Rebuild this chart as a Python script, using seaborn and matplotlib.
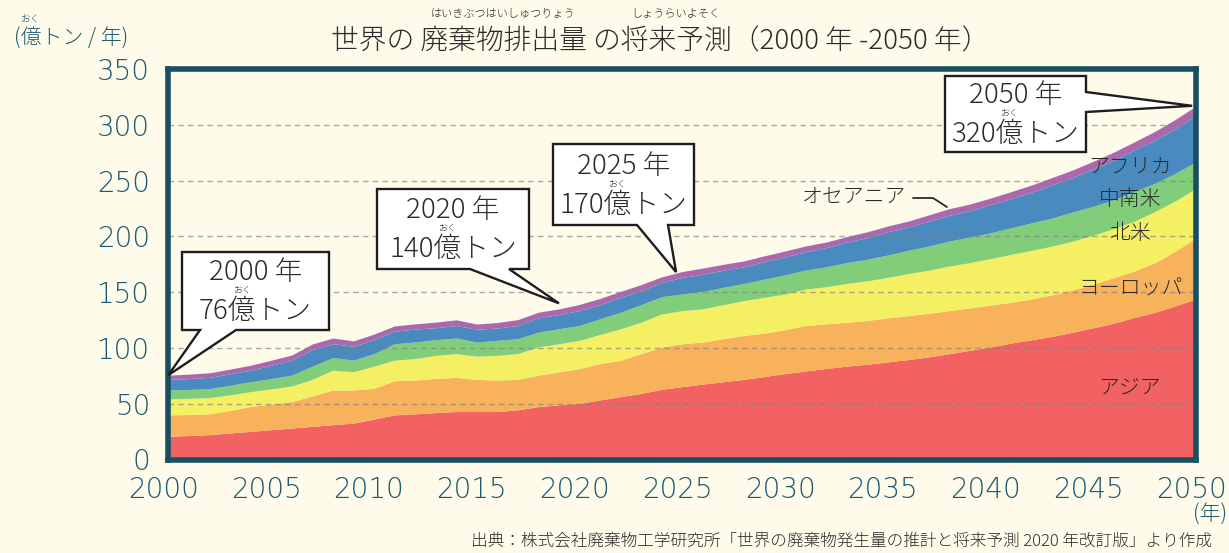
import matplotlib
matplotlib.use("Agg")
import matplotlib.pyplot as plt
import seaborn as sns
import pandas as pd
from matplotlib.patches import Polygon
from matplotlib.transforms import IdentityTransform, ScaledTranslation
from matplotlib.font_manager import FontProperties

# ---------------- data (億トン / 年) ----------------
years = list(range(2000, 2051))
asia = [20.8, 21.5, 22.3, 23.8, 25.2, 26.7, 28.2, 29.7, 31.2, 32.6,
        36.2, 40.0, 40.9, 42.1, 43.0, 43.0, 43.0, 44.5, 47.5, 49.0,
        50.4, 53.4, 56.4, 59.3, 62.9, 65.3, 67.6, 69.7, 71.8, 74.4,
        77.0, 79.4, 81.6, 83.7, 85.4, 87.5, 89.6, 92.0, 94.9, 97.9,
        100.9, 104.4, 107.4, 110.4, 114.2, 118.1, 122.2, 127.5, 132.0, 137.9, 143.9]
europe = [19.2, 18.8, 18.6, 20.2, 22.3, 23.1, 23.7, 27.3, 31.1, 29.7,
          27.6, 30.6, 30.3, 30.6, 30.6, 28.8, 28.2, 27.3, 28.1, 29.6,
          31.2, 32.6, 32.6, 35.6, 38.0, 38.5, 37.7, 38.6, 39.4, 38.9,
          39.3, 40.7, 40.0, 39.4, 39.2, 39.5, 39.4, 39.1, 38.6, 38.0,
          37.6, 36.5, 36.5, 37.3, 37.7, 39.1, 41.0, 41.6, 44.5, 49.0, 54.9]
north_america = [14.3, 14.5, 14.6, 14.0, 13.3, 13.5, 14.0, 14.8, 17.8, 16.3,
                 19.9, 18.4, 19.3, 20.7, 21.3, 20.8, 22.2, 23.1, 25.3, 25.2,
                 25.2, 26.1, 28.2, 28.2, 29.6, 29.7, 29.7, 30.5, 31.2, 32.1,
                 32.0, 32.7, 33.3, 34.7, 35.6, 36.2, 37.7, 38.6, 40.0, 40.6,
                 41.6, 43.0, 43.6, 43.6, 43.9, 43.9, 43.9, 44.5, 46.0, 45.1, 44.5]
latin_america = [8.0, 8.0, 8.0, 8.5, 8.9, 9.2, 9.7, 11.9, 11.3, 10.4,
                 11.2, 14.8, 14.8, 14.0, 14.0, 12.7, 13.4, 13.4, 13.3, 13.4,
                 13.3, 14.0, 14.8, 15.7, 15.5, 14.8, 15.7, 15.5, 15.4, 16.3,
                 17.2, 16.9, 17.8, 18.7, 19.3, 20.1, 20.8, 21.6, 22.3, 22.9,
                 23.1, 23.8, 24.6, 25.2, 26.1, 25.9, 25.8, 26.7, 25.2, 24.6, 23.7]
africa = [9.5, 9.7, 10.1, 10.3, 10.4, 12.0, 13.4, 14.8, 12.4, 12.5,
          12.5, 11.3, 11.6, 10.7, 11.2, 11.5, 11.0, 11.8, 12.8, 12.7,
          13.4, 12.7, 13.4, 12.5, 12.7, 14.9, 15.4, 15.4, 14.9, 15.7,
          16.1, 16.6, 17.2, 18.3, 19.4, 20.8, 20.8, 22.3, 23.1, 23.7,
          25.2, 26.1, 27.6, 29.7, 30.9, 33.5, 35.6, 37.1, 38.6, 40.1, 41.5]
oceania = [3.8, 4.0, 4.1, 4.2, 4.4, 4.5, 4.6, 5.0, 5.1, 4.8,
           5.0, 4.6, 4.7, 5.0, 5.1, 4.6, 5.0, 5.3, 5.0, 5.1,
           5.5, 5.6, 5.3, 5.5, 5.0, 5.3, 5.5, 5.3, 5.3, 5.2,
           5.3, 5.1, 5.0, 5.0, 5.2, 5.2, 5.4, 5.7, 6.0, 5.9,
           6.0, 6.3, 6.4, 6.6, 6.8, 6.9, 7.1, 7.4, 7.9, 8.3, 8.5]

region_names = ["アジア", "ヨーロッパ", "北米", "中南米", "アフリカ", "オセアニア"]
region_colors = ["#F26262", "#F7B25B", "#F5EF64", "#81CD79", "#4A8BBF", "#AA69AE"]
x_ticks = [2000, 2005, 2010, 2015, 2020, 2025, 2030, 2035, 2040, 2045, 2050]
y_ticks = [0, 50, 100, 150, 200, 250, 300, 350]
callout_year_text = ["2000 年", "2020 年", "2025 年", "2050 年"]
callout_amount_text = ["76億トン", "140億トン", "170億トン", "320億トン"]
title_text = "世界の 廃棄物排出量 の将来予測（2000 年 -2050 年）"
source_text = "出典：株式会社廃棄物工学研究所「世界の廃棄物発生量の推計と将来予測 2020 年改訂版」より作成"

df = pd.DataFrame({"年": years, "アジア": asia, "ヨーロッパ": europe, "北米": north_america,
                   "中南米": latin_america, "アフリカ": africa, "オセアニア": oceania})

# ---------------- style ----------------
W, H = 1229, 553
BG = "#FEFBEA"
TEAL = "#1B5A70"
FRAME = "#174F62"
DARK = "#2B2B2B"
WEIGHT = "light"
sns.set_theme(style="white")
plt.rcParams['font.family'] = ['Noto Sans CJK JP', 'DejaVu Sans']
palette = sns.color_palette(region_colors)

fig = plt.figure(figsize=(W / 100, H / 100), dpi=100, facecolor=BG)
ax = fig.add_axes([168.3 / W, 1 - 459.5 / H, (1196.2 - 168.3) / W, (459.5 - 69) / H])
ax.set_facecolor(BG)

ax.stackplot(df["年"], [df[c] for c in region_names], colors=palette, linewidth=0, zorder=1)

ax.set_xlim(2000, 2050)
ax.set_ylim(0, 350)
ax.set_xticks(x_ticks)
ax.set_yticks(y_ticks)
ax.set_axisbelow(False)
ax.yaxis.grid(True, linestyle=(0, (4, 3)), color="#7f7f7f", lw=1.0, alpha=0.65)
ax.xaxis.grid(False)
for s in ax.spines.values():
    s.set_visible(True)
    s.set_color(FRAME)
    s.set_linewidth(4.0)
    s.set_zorder(4)
ax.tick_params(axis="both", length=0, labelsize=20, labelcolor=TEAL)
ax.tick_params(axis="x", pad=12)
ax.tick_params(axis="y", pad=13)
shift = ScaledTranslation(-5 / 100, 0, fig.dpi_scale_trans)
for t in ax.get_xticklabels():
    t.set_transform(t.get_transform() + shift)
for t in ax.get_xticklabels() + ax.get_yticklabels():
    t.set_fontfamily("DejaVu Sans")
    t.set_fontweight("light")

ID = IdentityTransform()
renderer = fig.canvas.get_renderer()


def D(x, y):
    """pixel (from top-left) -> display coords"""
    return (x, H - y)


def textw(s, size):
    fp = FontProperties(family=['Noto Sans CJK JP', 'DejaVu Sans'], size=size, weight=WEIGHT)
    w, h, d = renderer.get_text_width_height_descent(s, fp, ismath=False)
    return w


def ptext(x, y, s, size, color=DARK, ha="center", va="center", z=7, **kw):
    return fig.text(*D(x, y), s, fontsize=size, color=color, ha=ha, va=va,
                    transform=ID, zorder=z, fontweight=WEIGHT, **kw)


def ruby_over(cx, y_line, line, target, ruby, size, rsize, color=DARK, dy=17):
    """place small reading text above `target` inside a centred `line`"""
    total = textw(line, size)
    start = cx - total / 2
    i = line.index(target)
    pre = textw(line[:i], size) if i > 0 else 0
    tw = textw(target, size)
    ptext(start + pre + tw / 2, y_line - dy, ruby, rsize, color=color)


# ---------------- title & axis texts ----------------
ptext(660, 41, title_text, 20)
ruby_over(660, 41, title_text, "廃棄物排出量", "はいきぶつはいしゅつりょう", 20, 8, dy=27)
ruby_over(660, 41, title_text, "将来予測", "しょうらいよそく", 20, 8, dy=27)

ylab = "(億トン / 年)"
ptext(71, 39, ylab, 15, color=TEAL)
ruby_over(71, 39, ylab, "億", "おく", 15, 7, color=TEAL, dy=20)
ptext(1210, 515, "(年)", 15, color=TEAL)
ptext(1212, 542, source_text, 12, ha="right")

# ---------------- callouts ----------------
# box (x0, y0, x1, y1) pixels, pointer base points (pixels), tip in data coords
callouts = [
    dict(box=(182, 252, 329, 330), base=[(236, 330), (200, 330)], side="bottom", tip=(2000, 75.6)),
    dict(box=(377, 189, 529, 269), base=[(509, 269), (470, 269)], side="bottom", tip=(2019.0, 140)),
    dict(box=(553, 144, 694, 225), base=[(668, 225), (637, 225)], side="bottom", tip=(2024.7, 168)),
    dict(box=(945, 76, 1086, 152), base=[(1086, 92), (1086, 112)], side="right", tip=(2049.8, 317)),
]
for c, ytxt, atxt in zip(callouts, callout_year_text, callout_amount_text):
    x0, y0, x1, y1 = c["box"]
    tx, ty = ax.transData.transform(c["tip"])
    tip = (tx, ty)
    if c["side"] == "bottom":
        pts = [D(x0, y0), D(x1, y0), D(x1, y1), D(*c["base"][0]), tip, D(*c["base"][1]), D(x0, y1)]
    else:
        pts = [D(x0, y0), D(x1, y0), D(*c["base"][0]), tip, D(*c["base"][1]), D(x1, y1), D(x0, y1)]
    poly = Polygon(pts, closed=True, facecolor="white", edgecolor="#1e1e1e", lw=1.7,
                   joinstyle="miter", transform=ID, zorder=6)
    fig.add_artist(poly)
    cx = (x0 + x1) / 2
    cy = (y0 + y1) / 2
    ptext(cx, cy - 19, ytxt, 20)
    ptext(cx, cy + 20, atxt, 20)
    ruby_over(cx, cy + 20, atxt, "億", "おく", 20, 6.5, dy=20.5)

# ---------------- region labels ----------------
label_pos = {"アフリカ": (1130, 168), "中南米": (1130, 199), "北米": (1130, 233),
             "ヨーロッパ": (1131, 289), "アジア": (1130, 388)}
for name, (lx, ly) in label_pos.items():
    ptext(lx, ly, name, 15)
ptext(906, 198, "オセアニア", 15, ha="right")
fig.add_artist(plt.Line2D([913, 933, 947], [H - 198, H - 198, H - 207], transform=ID,
                          color=DARK, lw=1.3, zorder=7))

fig.savefig("out.png", dpi=100, facecolor=BG)
